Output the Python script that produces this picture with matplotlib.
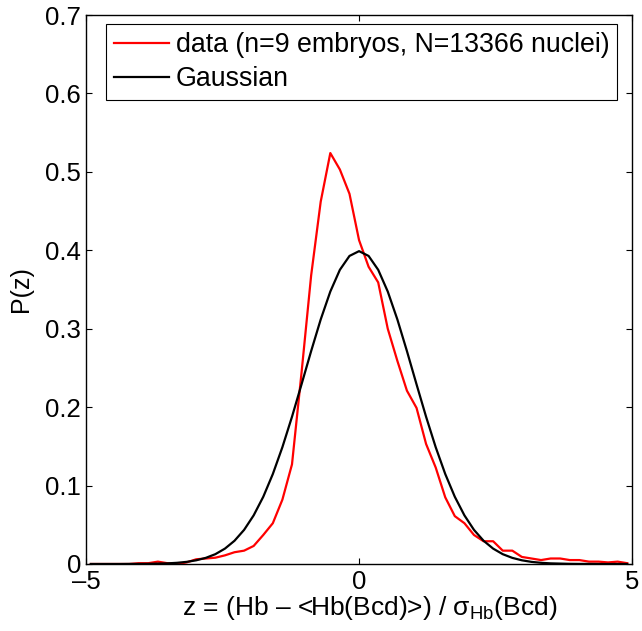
import matplotlib
matplotlib.use('Agg')
import matplotlib.pyplot as plt

plt.rcParams['font.family'] = ['Liberation Sans', 'DejaVu Sans']
plt.rcParams['mathtext.fontset'] = 'custom'
plt.rcParams['mathtext.rm'] = 'Liberation Sans'
plt.rcParams['mathtext.it'] = 'Liberation Sans'

# bin centres (57 bins over [-5, 5])
z = [-4.912, -4.737, -4.561, -4.386, -4.211, -4.035, -3.860, -3.684, -3.509, -3.333,
     -3.158, -2.982, -2.807, -2.632, -2.456, -2.281, -2.105, -1.930, -1.754, -1.579,
     -1.404, -1.228, -1.053, -0.877, -0.702, -0.526, -0.351, -0.175, 0.000, 0.175,
     0.351, 0.526, 0.702, 0.877, 1.053, 1.228, 1.404, 1.579, 1.754, 1.930,
     2.105, 2.281, 2.456, 2.632, 2.807, 2.982, 3.158, 3.333, 3.509, 3.684,
     3.860, 4.035, 4.211, 4.386, 4.561, 4.737, 4.912]

p_data = [0.000, 0.000, 0.000, 0.000, 0.000, 0.001, 0.001, 0.003, 0.001, 0.000,
          0.002, 0.006, 0.007, 0.008, 0.011, 0.015, 0.017, 0.023, 0.037, 0.052,
          0.082, 0.127, 0.244, 0.368, 0.462, 0.524, 0.503, 0.472, 0.413, 0.379,
          0.359, 0.300, 0.259, 0.221, 0.199, 0.153, 0.123, 0.085, 0.061, 0.052,
          0.037, 0.029, 0.029, 0.017, 0.017, 0.009, 0.007, 0.005, 0.007, 0.007,
          0.005, 0.005, 0.003, 0.003, 0.002, 0.003, 0.001]

p_gauss = [0.0000, 0.0000, 0.0000, 0.0000, 0.0001, 0.0001, 0.0002, 0.0005, 0.0008, 0.0015,
           0.0027, 0.0047, 0.0078, 0.0125, 0.0196, 0.0296, 0.0435, 0.0620, 0.0857, 0.1147,
           0.1489, 0.1877, 0.2291, 0.2715, 0.3118, 0.3474, 0.3751, 0.3928, 0.3989, 0.3928,
           0.3751, 0.3474, 0.3118, 0.2715, 0.2291, 0.1877, 0.1489, 0.1147, 0.0857, 0.0620,
           0.0435, 0.0296, 0.0196, 0.0125, 0.0078, 0.0047, 0.0027, 0.0015, 0.0008, 0.0005,
           0.0002, 0.0001, 0.0001, 0.0000, 0.0000, 0.0000, 0.0000]

x_ticks = [-5, 0, 5]
x_ticklabels = ['\u20135', '0', '5']
y_ticks = [0, 0.1, 0.2, 0.3, 0.4, 0.5, 0.6, 0.7]
y_ticklabels = ['0', '0.1', '0.2', '0.3', '0.4', '0.5', '0.6', '0.7']

fig = plt.figure(figsize=(6.42, 6.31), dpi=100)
ax = fig.add_axes([0.134, 0.1062, 0.8505, 0.870])

ax.plot(z, p_data, color='#ff0000', lw=1.6, label='data (n=9 embryos, N=13366 nuclei)')
ax.plot(z, p_gauss, color='black', lw=1.6, label='Gaussian')

ax.set_xlim(-5, 5)
ax.set_ylim(0, 0.7)
ax.set_xticks(x_ticks)
ax.set_xticklabels(x_ticklabels)
ax.set_yticks(y_ticks)
ax.set_yticklabels(y_ticklabels)
ax.tick_params(direction='in', length=4, width=0.8, top=True, right=True,
               labelsize=18.5)
ax.tick_params(axis='x', pad=4.3)
ax.tick_params(axis='y', pad=3.6)
for s in ax.spines.values():
    s.set_linewidth(1.0)

ax.set_xlabel('z = (Hb \u2013 <Hb(Bcd)>) / \u03c3$_{\\mathrm{Hb}}$(Bcd)', fontsize=19)
ax.xaxis.set_label_coords(0.52, -0.093)
ax.xaxis.label.set_verticalalignment('baseline')
ax.set_ylabel('P(z)', fontsize=18)
ax.yaxis.set_label_coords(-0.119, 0.5)
ax.yaxis.label.set_verticalalignment('center')

leg = ax.legend(loc='upper left', bbox_to_anchor=(0.0366, 0.9836), fontsize=19.3,
                frameon=True, fancybox=False, edgecolor='black', framealpha=1,
                handlelength=2.05, borderpad=0.3, labelspacing=0.3, handletextpad=0.25,
                borderaxespad=0)
leg.get_frame().set_linewidth(0.8)

fig.savefig('out.png', dpi=100)
